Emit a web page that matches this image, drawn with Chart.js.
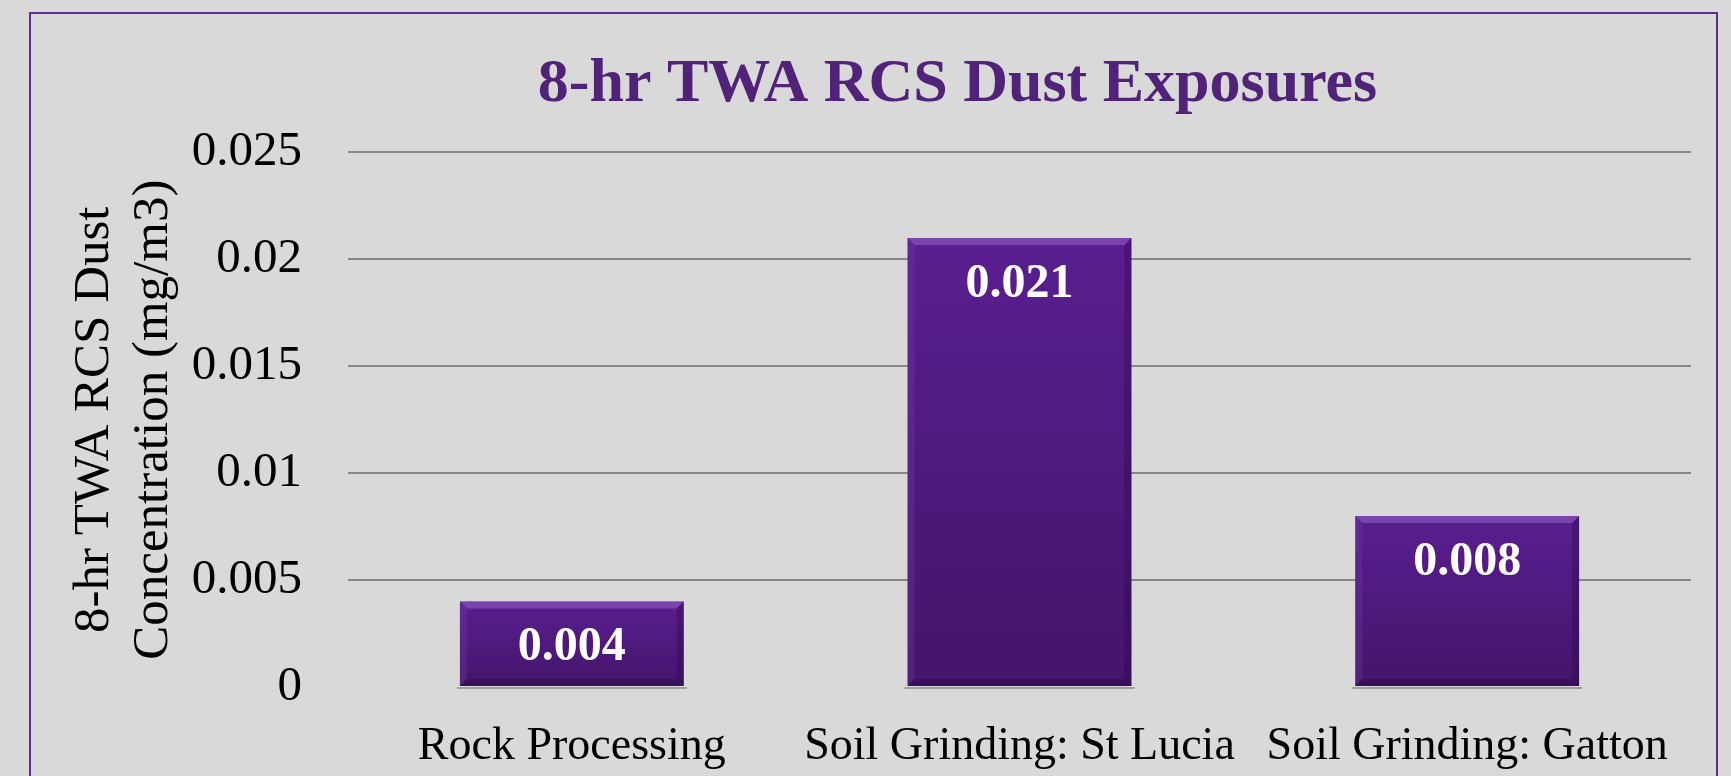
<!DOCTYPE html>
<html>
<head>
<meta charset="utf-8">
<script src="https://cdn.jsdelivr.net/npm/chart.js@4/dist/chart.umd.min.js"></script>
<style>
  html, body { margin: 0; padding: 0; background: #d9d9d9; overflow: hidden; }
  #wrap { position: absolute; left: 0; top: 0; width: 1731px; height: 776px; }
  #frame { position: absolute; left: 29px; top: 12px; width: 1689px; height: 800px; border: 2px solid #5c2d90; border-bottom: none; box-sizing: border-box; }
  canvas { position: absolute; left: 0; top: 0; }
</style>
</head>
<body>
<div id="wrap">
  <div id="frame"></div>
  <canvas id="c" width="1731" height="776"></canvas>
</div>
<script>
const categories = ['Rock Processing', 'Soil Grinding: St Lucia', 'Soil Grinding: Gatton'];
const exposures = [0.004, 0.021, 0.008];
const yTickValues = [0, 0.005, 0.01, 0.015, 0.02, 0.025];
const chartTitle = '8-hr TWA RCS Dust Exposures';
const yAxisTitle = ['8-hr TWA RCS Dust', 'Concentration (mg/m3)'];

const SERIF = "'Liberation Serif', 'DejaVu Serif', serif";

function barGradient(ctx) {
  const chart = ctx.chart;
  const y = chart.scales.y;
  if (!y || ctx.raw === undefined) return '#521b85';
  const top = y.getPixelForValue(ctx.raw);
  const base = y.getPixelForValue(0);
  if (!isFinite(top) || !isFinite(base) || top === base) return '#521b85';
  const g = chart.ctx.createLinearGradient(0, top, 0, base);
  g.addColorStop(0, '#5a1e90');
  g.addColorStop(1, '#43156a');
  return g;
}

const titleShift = {
  id: 'titleShift',
  afterLayout(chart) {
    const t = chart.titleBlock;
    if (t) { t.left += 92; t.right += 92; }
  }
};

const bevelAndLabels = {
  id: 'bevelAndLabels',
  afterDatasetsDraw(chart) {
    const c = chart.ctx;
    const meta = chart.getDatasetMeta(0);
    meta.data.forEach((bar, i) => {
      const p = bar.getProps(['x', 'y', 'base', 'width'], true);
      const l = p.x - p.width / 2, r = p.x + p.width / 2, t = p.y, b = p.base;
      const bv = 7;
      c.save();
      c.fillStyle = 'rgba(150,100,200,0.55)';
      c.beginPath(); c.moveTo(l, t); c.lineTo(r, t); c.lineTo(r - bv, t + bv); c.lineTo(l + bv, t + bv); c.closePath(); c.fill();
      c.fillStyle = 'rgba(110,60,160,0.35)';
      c.beginPath(); c.moveTo(l, t); c.lineTo(l + bv, t + bv); c.lineTo(l + bv, b - bv); c.lineTo(l, b); c.closePath(); c.fill();
      c.fillStyle = 'rgba(40,10,70,0.35)';
      c.beginPath(); c.moveTo(r, t); c.lineTo(r - bv, t + bv); c.lineTo(r - bv, b - bv); c.lineTo(r, b); c.closePath(); c.fill();
      c.fillStyle = 'rgba(40,10,70,0.45)';
      c.beginPath(); c.moveTo(l, b); c.lineTo(l + bv, b - bv); c.lineTo(r - bv, b - bv); c.lineTo(r, b); c.closePath(); c.fill();
      c.fillStyle = 'rgba(120,120,120,0.6)';
      c.fillRect(l - 3, b + 1, p.width + 6, 2);
      c.fillStyle = '#ffffff';
      c.font = 'bold 48px ' + SERIF;
      c.textAlign = 'center';
      c.textBaseline = 'alphabetic';
      c.fillText(String(exposures[i]), p.x, t + 59);
      c.restore();
    });
  }
};

new Chart(document.getElementById('c'), {
  type: 'bar',
  data: {
    labels: categories,
    datasets: [{
      data: exposures,
      backgroundColor: barGradient,
      borderWidth: 0,
      barPercentage: 0.5,
      categoryPercentage: 1.0
    }]
  },
  options: {
    responsive: false,
    animation: false,
    devicePixelRatio: 1,
    layout: { padding: { left: 40, right: 40, top: 0, bottom: 0 } },
    plugins: {
      legend: { display: false },
      tooltip: { enabled: false },
      title: {
        display: true,
        text: chartTitle,
        color: '#512378',
        font: { family: SERIF, size: 62, weight: 'bold', lineHeight: 1.2 },
        padding: { top: 48, bottom: 30 }
      }
    },
    scales: {
      x: {
        grid: { display: false, drawTicks: false },
        border: { display: false },
        ticks: { color: '#000000', font: { family: SERIF, size: 46 }, padding: 32, maxRotation: 0, autoSkip: false },
        afterFit(scale) { scale.height = 89; }
      },
      y: {
        min: 0,
        max: 0.025,
        afterBuildTicks(scale) { scale.ticks = yTickValues.map(v => ({ value: v })); },
        grid: {
          color: (ctx) => (ctx.tick && ctx.tick.value === 0) ? 'rgba(0,0,0,0)' : '#878787',
          lineWidth: 2,
          drawTicks: false
        },
        border: { display: false },
        ticks: {
          color: '#000000',
          font: { family: SERIF, size: 49 },
          padding: 46,
          callback: (v) => String(Number(Number(v).toFixed(3)))
        },
        title: {
          display: true,
          text: yAxisTitle,
          color: '#000000',
          font: { family: SERIF, size: 51, lineHeight: 1.14 },
          padding: { top: 26, bottom: 0 }
        },
        afterFit(scale) { scale.width = 308; }
      }
    }
  },
  plugins: [titleShift, bevelAndLabels]
});
</script>
</body>
</html>
